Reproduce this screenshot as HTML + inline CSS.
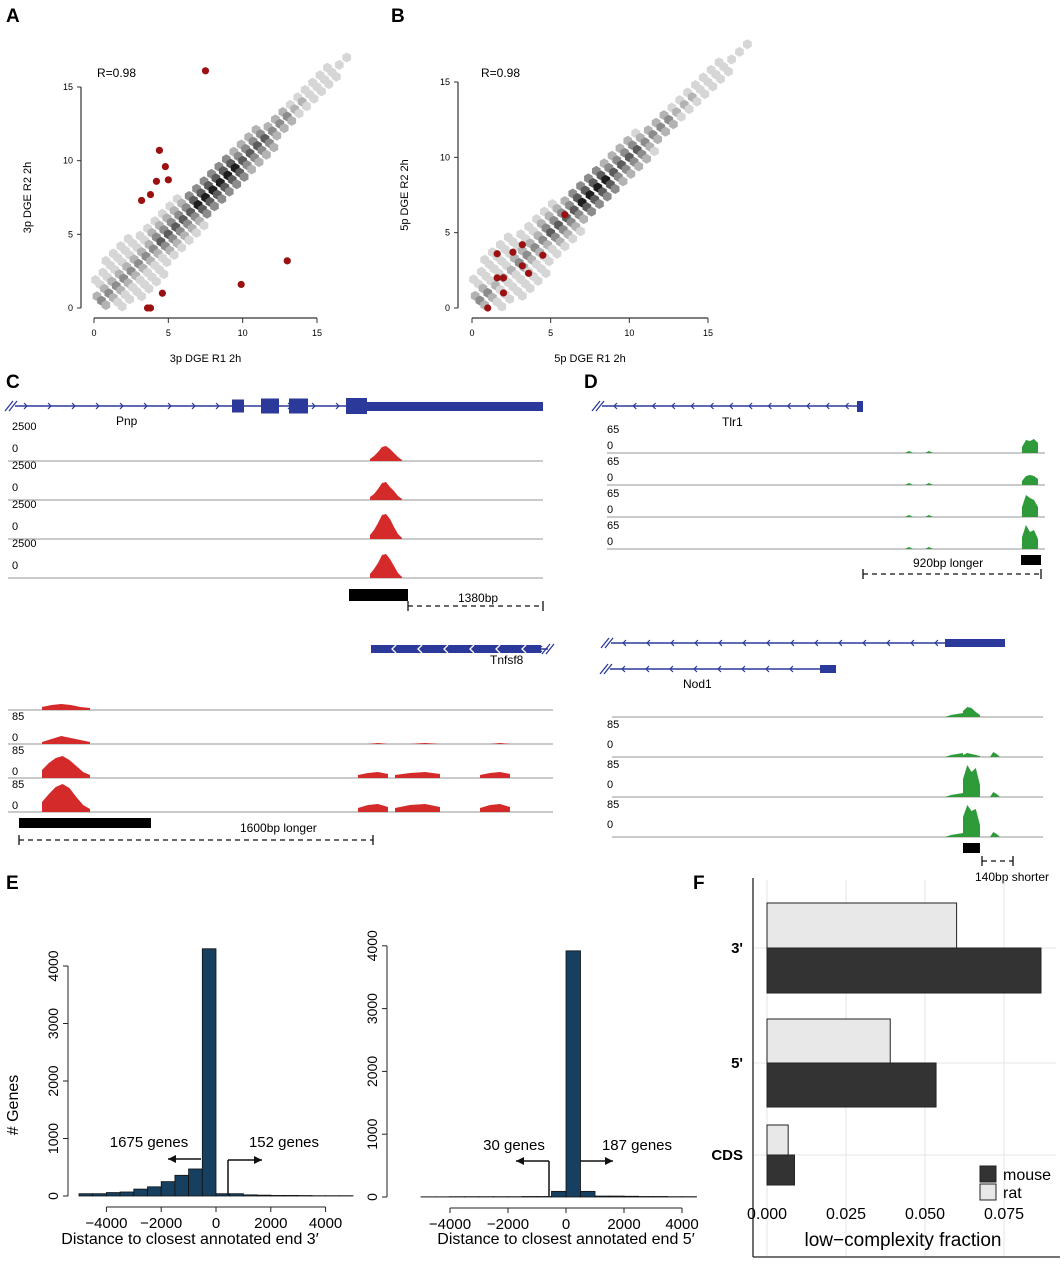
<!DOCTYPE html>
<html><head><meta charset="utf-8">
<style>
html,body{margin:0;padding:0;background:#fff;}
svg{display:block;font-family:"Liberation Sans",Arial,sans-serif;}
</style></head>
<body>
<svg id="fig" width="1064" height="1280" viewBox="0 0 1064 1280" xmlns="http://www.w3.org/2000/svg">
<g id="static">
<text x="6" y="22" font-size="19" font-weight="bold">A</text>
<text x="391" y="22" font-size="19" font-weight="bold">B</text>
<text x="6" y="388" font-size="19" font-weight="bold">C</text>
<text x="584" y="388" font-size="19" font-weight="bold">D</text>
<text x="6" y="889" font-size="19" font-weight="bold">E</text>
<text x="693" y="889" font-size="19" font-weight="bold">F</text>
</g>
<g id="panelA"></g>
<g id="panelB"></g>
<g id="panelC"></g>
<g id="panelD"></g>
<g id="panelE"></g>
<g id="panelF"></g>
</svg>
<script>
// ---------- data ----------
const diagPosA   = [0.5,1,1.5,2,2.5,3,3.5,4,4.5,5,5.5,6,6.5,7,7.5,8,8.5,9,9.5,10,10.5,11,11.5,12,12.5,13,13.5,14,14.5,15,15.5,16,16.5,17];
const diagLevelA = [2,2,2,2,2,2,2,2,3,3,3,3,3,4,4,4,4,4,4,3,3,3,3,2,2,2,1,1,0,0,0,0,0,0];
const diagWidthA = [2,3,3,4,4,4,4,3,3,3,3,3,3,2,2,2,2,2,2,2,2,2,2,1,1,1,1,1,1,1,1,1,0,0];
const diagPosB   = [0.5,1,1.5,2,2.5,3,3.5,4,4.5,5,5.5,6,6.5,7,7.5,8,8.5,9,9.5,10,10.5,11,11.5,12,12.5,13,13.5,14,14.5,15,15.5,16,16.5,17,17.5];
const diagLevelB = [2,2,1,1,1,2,2,2,2,3,3,3,3,4,4,4,4,3,3,3,3,2,2,2,2,1,1,1,0,0,0,0,0,0,0];
const diagWidthB = [2,3,3,4,4,4,4,3,3,3,3,3,2,2,2,2,2,2,2,2,2,2,1,1,1,1,1,1,1,1,1,1,0,0,0];
const outX_A = [7.5,4.4,4.8,5.0,4.2,3.8,3.2,13.0,9.9,4.6,3.8,3.6];
const outY_A = [16.1,10.7,9.6,8.7,8.6,7.7,7.3,3.2,1.6,1.0,0,0];
const outX_B = [5.9,3.2,2.6,1.6,4.5,3.2,3.6,1.6,2.0,2.0,1.0];
const outY_B = [6.2,4.2,3.7,3.6,3.5,2.8,2.3,2.0,2.0,1.0,0];
const axisTicks = [0,5,10,15];
const binsE1 = [-5000,-4500,-4000,-3500,-3000,-2500,-2000,-1500,-1000,-500,0,500,1000,1500,2000,2500,3000,3500,4000,4500];
const countsE1 = [40,40,60,70,120,160,250,360,470,4300,40,40,20,15,10,10,8,5,5,5];
const binsE2 = [-5000,-4500,-4000,-3500,-3000,-2500,-2000,-1500,-1000,-500,0,500,1000,1500,2000,2500,3000,3500,4000];
const countsE2 = [3,3,5,5,5,5,5,8,8,90,3920,90,15,15,12,8,8,5,5];
const xTicksE = [-4000,-2000,0,2000,4000];
const yTicksE = [0,1000,2000,3000,4000];
const catsF = ["3'","5'","CDS"];
const ratF = [0.060,0.039,0.0067];
const mouseF = [0.0867,0.0535,0.0087];
const xTicksF = [0,0.025,0.05,0.075];
const xTickLabelsF = ["0.000","0.025","0.050","0.075"];
const peakC = [[2,5,9,14,15,12,8,4,1],[3,6,11,17,18,13,9,4,1],[4,9,16,24,25,20,12,5,1],[4,9,15,23,24,19,12,5,1]];
const peakCL = [[3,5,6,5,3,2],[2,5,8,6,4,2],[8,15,20,22,18,12,6,3],[10,18,25,28,24,15,7,3]];
const peakCR = [[0,0,0,0],[0,0,1,0],[3,5,6,4],[4,7,8,5]];
const peakD = [[6,13,12,14,10],[4,9,10,9,6],[10,22,19,17,10],[12,24,17,19,10]];
const peakN = [[6,10,9,5,2],[2,4,3,2,1],[18,32,25,29,12],[20,32,26,28,12]];

const NS='http://www.w3.org/2000/svg';
function mk(parent,tag,attrs,name,text){const e=document.createElementNS(NS,tag);for(const k in attrs)e.setAttribute(k,attrs[k]);


if(text!==undefined)e.textContent=text;parent.appendChild(e);return e;}
const shades=['#d6d6d6','#b3b3b3','#8c8c8c','#5c5c5c','#1e1e1e'];

function scatter(g,cfg,pos,lev,wid,ox,oy){
  const sx=v=>cfg.x0+v*(cfg.x15-cfg.x0)/15, sy=v=>cfg.y0-v*(cfg.y0-cfg.y15)/15;
  const r=5.0;
  function hex(cx,cy,fill){let p=[];for(let i=0;i<6;i++){const a=Math.PI/6+i*Math.PI/3;p.push((cx+r*Math.cos(a)).toFixed(1)+','+(cy+r*Math.sin(a)).toFixed(1));}
    mk(g,'polygon',{points:p.join(' '),fill:fill},'hexbin');}
  for(let i=0;i<pos.length;i++){
    for(let o=-wid[i];o<=wid[i];o++){
      const lv=Math.max(0,lev[i]-Math.abs(o));
      const x=pos[i]+o*0.3, y=pos[i]-o*0.3;
      if(x<0||y<0)continue;
      hex(sx(x),sy(y),shades[lv]);
    }
  }
  for(let i=0;i<ox.length;i++) mk(g,'circle',{cx:sx(ox[i]),cy:sy(oy[i]),r:3.6,fill:'#9b1111'},'outlier-point');
  mk(g,'line',{x1:cfg.ax,y1:sy(0),x2:cfg.ax,y2:sy(15),stroke:'#333','stroke-width':1.2},'y-axis');
  mk(g,'line',{x1:sx(0),y1:cfg.ay,x2:sx(15),y2:cfg.ay,stroke:'#333','stroke-width':1.2},'x-axis');
  axisTicks.forEach(t=>{
    mk(g,'line',{x1:cfg.ax-4,y1:sy(t),x2:cfg.ax,y2:sy(t),stroke:'#333'},'y-tick');
    mk(g,'text',{x:cfg.ax-8,y:sy(t)+3,'font-size':9,'text-anchor':'end'},'y-tick-label',t);
    mk(g,'line',{x1:sx(t),y1:cfg.ay,x2:sx(t),y2:cfg.ay+5,stroke:'#333'},'x-tick');
    mk(g,'text',{x:sx(t),y:cfg.ay+18,'font-size':9,'text-anchor':'middle'},'x-tick-label',t);
  });
  mk(g,'text',{x:cfg.rx,y:77,'font-size':12},'r-value','R=0.98');
  mk(g,'text',{x:(sx(0)+sx(15))/2,y:362,'font-size':11,'text-anchor':'middle'},'x-axis-title',cfg.xl);
  const yc=(sy(0)+sy(15))/2;
  mk(g,'text',{x:cfg.ax-50,y:yc,'font-size':11,'text-anchor':'middle',transform:`rotate(-90 ${cfg.ax-50} ${yc})`},'y-axis-title',cfg.yl);
}
scatter(document.getElementById('panelA'),{x0:94,x15:317,y0:308,y15:87,ax:81,ay:318,rx:97,xl:'3p DGE R1 2h',yl:'3p DGE R2 2h'},diagPosA,diagLevelA,diagWidthA,outX_A,outY_A);
scatter(document.getElementById('panelB'),{x0:472,x15:708,y0:308,y15:82,ax:458,ay:318,rx:481,xl:'5p DGE R1 2h',yl:'5p DGE R2 2h'},diagPosB,diagLevelB,diagWidthB,outX_B,outY_B);

const blue='#2b3a9a';
function gene(g,x1,x2,y,dir,step,name){
  mk(g,'line',{x1:x1,y1:y,x2:x2,y2:y,stroke:blue,'stroke-width':1.4},name+'-intron-line');
  for(let x=x1+12;x<x2-6;x+=step){
    const d=dir>0?'M'+(x-3)+','+(y-3)+' L'+x+','+y+' L'+(x-3)+','+(y+3):'M'+(x+3)+','+(y-3)+' L'+x+','+y+' L'+(x+3)+','+(y+3);
    mk(g,'path',{d:d,stroke:blue,fill:'none','stroke-width':1.2},name+'-strand-arrow');
  }
}
function slash(g,x,y){mk(g,'path',{d:`M${x},${y+5} L${x+8},${y-5} M${x+4},${y+5} L${x+12},${y-5}`,stroke:blue,'stroke-width':1.3},'break-mark');}
function track(g,x1,x2,y,col,peaks){
  mk(g,'line',{x1:x1,y1:y,x2:x2,y2:y,stroke:'#aaa','stroke-width':1.2},'track-baseline');
  peaks.forEach(p=>{const w=p.w/(p.h.length-1);let d=`M${p.x},${y}`;p.h.forEach((h,i)=>d+=` L${(p.x+i*w).toFixed(1)},${y-h}`);d+=` L${p.x+p.w},${y} Z`;
    mk(g,'path',{d:d,fill:col},'coverage-peak');});
}
function lbl(g,x,y,t,s,anchor){return mk(g,'text',{x:x,y:y,'font-size':s||11,'text-anchor':anchor||'start'},'label',t);}
function dashed(g,x1,x2,y){mk(g,'line',{x1:x1,y1:y,x2:x2,y2:y,stroke:'#111','stroke-dasharray':'5,4','stroke-width':1.3},'length-dashed-line');
  mk(g,'line',{x1:x1,y1:y-5,x2:x1,y2:y+5,stroke:'#111','stroke-width':1.3},'length-tick');mk(g,'line',{x1:x2,y1:y-5,x2:x2,y2:y+5,stroke:'#111','stroke-width':1.3},'length-tick');}

const C=document.getElementById('panelC');
slash(C,5,406);gene(C,15,543,406,1,24,'pnp');
[[232,244,13],[261,279,15],[289,308,15],[346,367,16]].forEach(e=>mk(C,'rect',{x:e[0],y:406-e[2]/2,width:e[1]-e[0],height:e[2],fill:blue},'exon'));
mk(C,'rect',{x:367,y:402,width:176,height:9,fill:blue},'utr');
lbl(C,116,425,'Pnp',12);
[461,500,539,578].forEach((b,i)=>{lbl(C,12,b-31,'2500');lbl(C,12,b-9,'0');track(C,8,543,b,'#d42a2a',[{x:370,w:32,h:peakC[i]}]);});
mk(C,'rect',{x:349,y:589,width:59,height:12,fill:'#000'},'region-bar');
dashed(C,408,543,606);lbl(C,458,602,'1380bp',12);
gene(C,371,548,649,-1,26,'tnfsf8');mk(C,'rect',{x:371,y:645,width:170,height:8,fill:blue},'utr');
for(let x=392;x<535;x+=26)mk(C,'path',{d:`M${x+4},${645} L${x},649 L${x+4},653`,stroke:'#fff',fill:'none','stroke-width':1.3},'strand-arrow');
slash(C,542,649);
lbl(C,490,664,'Tnfsf8',12);
[710,744,778,812].forEach((b,i)=>{if(i>0){lbl(C,12,b-24,'85');lbl(C,12,b-3,'0');}
  track(C,8,553,b,'#d42a2a',[{x:42,w:48,h:peakCL[i]},{x:358,w:30,h:peakCR[i]},{x:395,w:45,h:peakCR[i]},{x:480,w:30,h:peakCR[i]}]);});
mk(C,'rect',{x:19,y:818,width:132,height:10,fill:'#000'},'region-bar');
dashed(C,19,373,840);lbl(C,240,832,'1600bp longer',12);

const D=document.getElementById('panelD');
slash(D,592,406);gene(D,602,858,406,-1,19.3,'tlr1');mk(D,'rect',{x:857,y:401,width:6,height:11,fill:blue},'exon');
lbl(D,722,426,'Tlr1',12);
[453,485,517,549].forEach((b,i)=>{lbl(D,607,b-20,'65');lbl(D,607,b-4,'0');
  track(D,607,1045,b,'#2e9a3a',[{x:1022,w:16,h:peakD[i]},{x:905,w:8,h:[0,2,0]},{x:925,w:8,h:[0,2,0]}]);});
mk(D,'rect',{x:1021,y:555,width:20,height:10,fill:'#000'},'region-bar');
dashed(D,863,1041,574);lbl(D,913,567,'920bp longer',12);
slash(D,601,643);gene(D,611,945,643,-1,24,'nod1-long');
mk(D,'rect',{x:945,y:639,width:60,height:8,fill:blue},'exon');
slash(D,600,669);gene(D,610,820,669,-1,24,'nod1-short');mk(D,'rect',{x:820,y:665,width:16,height:8,fill:blue},'exon');
lbl(D,683,688,'Nod1',12);
[717,757,797,837].forEach((b,i)=>{if(i>0){lbl(D,607,b-29,'85');lbl(D,607,b-9,'0');}
  track(D,612,1043,b,'#2e9a3a',[{x:963,w:17,h:peakN[i]},{x:990,w:10,h:[0,5,3,0].map(v=>i>0?v:0)},{x:945,w:18,h:[0,2,3,4]}]);});
mk(D,'rect',{x:963,y:843,width:17,height:10,fill:'#000'},'region-bar');
dashed(D,982,1013,861);lbl(D,975,881,'140bp shorter',12);

const E=document.getElementById('panelE');
function hist(cfg,bins,counts){
  const sx=v=>cfg.x0+v*cfg.kx, sy=v=>cfg.y0-v*cfg.ky;
  bins.forEach((b,i)=>mk(E,'rect',{x:sx(b),y:sy(counts[i]),width:500*cfg.kx,height:counts[i]*cfg.ky,fill:'#173f5f',stroke:'#111','stroke-width':0.8},'histogram-bar'));
  mk(E,'line',{x1:cfg.ax,y1:sy(0),x2:cfg.ax,y2:sy(4000),stroke:'#222'},'y-axis');
  yTicksE.forEach(t=>{mk(E,'line',{x1:cfg.ax-5,y1:sy(t),x2:cfg.ax,y2:sy(t),stroke:'#222'},'y-tick');
    const ty=sy(t);mk(E,'text',{x:cfg.ax-10,y:ty,'font-size':14,'text-anchor':'middle',transform:`rotate(-90 ${cfg.ax-10} ${ty})`},'y-tick-label',t);});
  mk(E,'line',{x1:sx(-4000),y1:cfg.ay,x2:sx(4000),y2:cfg.ay,stroke:'#222'},'x-axis');
  xTicksE.forEach(t=>{mk(E,'line',{x1:sx(t),y1:cfg.ay,x2:sx(t),y2:cfg.ay+5,stroke:'#222'},'x-tick');
    mk(E,'text',{x:sx(t),y:cfg.ay+21,'font-size':15,'text-anchor':'middle'},'x-tick-label',t===0?'0':(t<0?'\u2212'+(-t):t));});
  mk(E,'text',{x:cfg.xc,y:1244,'font-size':16,'text-anchor':'middle'},'x-axis-title',cfg.xl);
}
hist({x0:216,kx:0.0274,y0:1196,ky:0.0575,ax:68,ay:1207,xc:190,xl:'Distance to closest annotated end 3\u2032'},binsE1,countsE1);
hist({x0:566,kx:0.029,y0:1197,ky:0.0628,ax:387,ay:1208,xc:566,xl:'Distance to closest annotated end 5\u2032'},binsE2,countsE2);
mk(E,'text',{x:18,y:1105,'font-size':16,'text-anchor':'middle',transform:'rotate(-90 18 1105)'},'y-axis-title','# Genes');
function arrowH(x1,x2,y){mk(E,'line',{x1:x1,y1:y,x2:x2,y2:y,stroke:'#111','stroke-width':1.5},'annotation-arrow');
  const d=x2>x1?1:-1;mk(E,'path',{d:`M${x2},${y} L${x2-8*d},${y-4} L${x2-8*d},${y+4} Z`,fill:'#111'},'arrowhead');}
lbl(E,149,1147,'1675 genes',15,'middle');arrowH(201,168,1159);
lbl(E,284,1147,'152 genes',15,'middle');mk(E,'line',{x1:228,y1:1195,x2:228,y2:1160,stroke:'#111','stroke-width':1.5},'bracket');arrowH(228,262,1160);
lbl(E,514,1150,'30 genes',15,'middle');mk(E,'line',{x1:549,y1:1196,x2:549,y2:1161,stroke:'#111','stroke-width':1.5},'bracket');arrowH(549,516,1161);
lbl(E,637,1150,'187 genes',15,'middle');arrowH(580,613,1161);

const F=document.getElementById('panelF');
const fx=v=>767+v*3160;
const catY=[948,1063,1155], bh=[45,44,30];
[0,0.025,0.05,0.075].forEach(t=>mk(F,'line',{x1:fx(t),y1:880,x2:fx(t),y2:1256,stroke:'#e6e6e6'},'grid-line'));
catY.forEach(y=>mk(F,'line',{x1:753,y1:y,x2:1056,y2:y,stroke:'#e6e6e6'},'grid-line'));
catsF.forEach((c,i)=>{
  mk(F,'rect',{x:fx(0),y:catY[i]-bh[i],width:ratF[i]*3160,height:bh[i],fill:'#e8e8e8',stroke:'#222'},'bar-rat');
  mk(F,'rect',{x:fx(0),y:catY[i],width:mouseF[i]*3160,height:bh[i],fill:'#333',stroke:'#222'},'bar-mouse');
  mk(F,'text',{x:743,y:catY[i]+5,'font-size':15,'font-weight':'bold','text-anchor':'end'},'category-label',c);
});
mk(F,'line',{x1:753,y1:878,x2:753,y2:1257,stroke:'#222','stroke-width':1.3},'y-axis');
mk(F,'line',{x1:753,y1:1257,x2:1060,y2:1257,stroke:'#222','stroke-width':1.3},'x-axis');
xTicksF.forEach((t,i)=>mk(F,'text',{x:fx(t),y:1219,'font-size':16,'text-anchor':'middle'},'x-tick-label',xTickLabelsF[i]));
mk(F,'text',{x:903,y:1246,'font-size':19,'text-anchor':'middle'},'x-axis-title','low\u2212complexity fraction');
mk(F,'rect',{x:980,y:1166,width:16,height:16,fill:'#333',stroke:'#222'},'legend-swatch-mouse');
mk(F,'rect',{x:980,y:1184,width:16,height:16,fill:'#e8e8e8',stroke:'#222'},'legend-swatch-rat');
mk(F,'text',{x:1003,y:1180,'font-size':16},'legend-label-mouse','mouse');
mk(F,'text',{x:1003,y:1198,'font-size':16},'legend-label-rat','rat');
</script>
</body></html>
